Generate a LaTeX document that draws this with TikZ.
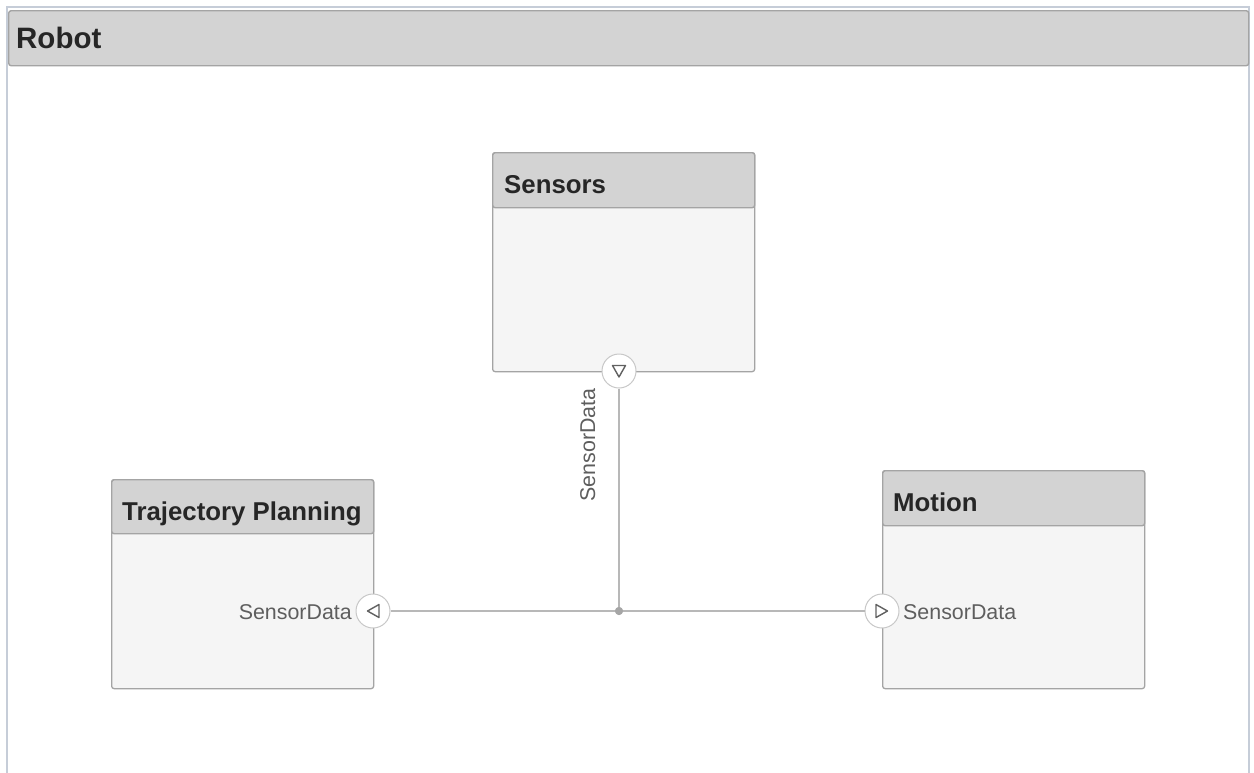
\documentclass[tikz,border=0pt]{standalone}
\usepackage{fontspec}
\setmainfont{Liberation Sans}
\usetikzlibrary{calc}

\definecolor{hdr}{HTML}{D3D3D3}
\definecolor{bodyfill}{HTML}{F5F5F5}
\definecolor{edge}{HTML}{A4A4A4}
\definecolor{wire}{HTML}{B8B8B8}
\definecolor{portedge}{HTML}{C8C8C8}
\definecolor{labelgray}{HTML}{5E5E5E}
\definecolor{titleink}{HTML}{262626}
\definecolor{frameside}{HTML}{C6CDD8}

\tikzset{
  blockbody/.style={draw=edge, fill=bodyfill, line width=1.3pt, rounded corners=2.5pt,
    inner sep=0pt, anchor=north west},
  blockhead/.style={draw=edge, fill=hdr, line width=1.4pt, rounded corners=2.5pt,
    inner sep=0pt, anchor=north west, minimum height=55pt},
  blocktitle/.style={anchor=base west, inner sep=0pt, text=titleink,
    font=\fontsize{25.8}{30}\selectfont\bfseries},
  portlabel/.style={inner sep=0pt, text=labelgray, font=\fontsize{21.4}{25}\selectfont},
  port/.style={circle, draw=portedge, fill=white, line width=1pt, minimum size=34pt, inner sep=0pt},
  wireline/.style={draw=wire, line width=1.6pt},
  tri/.style={draw=black!62, line width=1.4pt, line join=round},
  junction/.style={circle, fill=black!35, minimum size=8pt, inner sep=0pt},
}

\begin{document}
\begin{tikzpicture}[x=1pt, y=-1pt]
  \useasboundingbox (0,0) rectangle (1254,772);
  \fill[white] (0,0) rectangle (1254,772);

  % outer component frame
  \draw[frameside, line width=2.5pt] (7,790) -- (7,7) -- (1249,7) -- (1249,790);
  \node[blockhead, minimum width=1240pt] (robothead) at (8,10) {};
  \node[blocktitle, font=\fontsize{29.5}{34}\selectfont\bfseries] (robottitle) at (16,48) {Robot};

  % Sensors
  \node[blockbody, minimum width=262pt, minimum height=219pt] (sens) at (492,152) {};
  \node[blockhead, minimum width=262pt] (senshead) at (492,152) {};
  \node[blocktitle] (senstitle) at (504,193) {Sensors};

  % Trajectory Planning
  \node[blockbody, minimum width=262pt, minimum height=209pt] (traj) at (111,479) {};
  \node[blockhead, minimum width=262pt, minimum height=54pt] (trajhead) at (111,479) {};
  \node[blocktitle] (trajtitle) at (122,520) {Trajectory Planning};

  % Motion
  \node[blockbody, minimum width=262pt, minimum height=218pt] (mot) at (882,470) {};
  \node[blockhead, minimum width=262pt] (mothead) at (882,470) {};
  \node[blocktitle] (mottitle) at (893,511) {Motion};

  % ports and the junction of the SensorData connection
  \node[port] (sensport) at (619,371) {};
  \node[port] (trajport) at (373,611) {};
  \node[port] (motport) at (882,611) {};
  \node[junction] (junc) at (619,611) {};

  % connectors
  \draw[wireline] (sensport.south) -- (junc.center);
  \draw[wireline] (trajport.east) -- (junc.center);
  \draw[wireline] (junc.center) -- (motport.west);
  \node[junction] at (junc) {};

  % port direction marks
  \draw[tri] ($(sensport)+(-6.5,-5.5)$) -- ($(sensport)+(6.5,-5.5)$) -- ($(sensport)+(0,6)$) -- cycle;
  \draw[tri] ($(trajport)+(6,-6.5)$) -- ($(trajport)+(6,6.5)$) -- ($(trajport)+(-5.5,0)$) -- cycle;
  \draw[tri] ($(motport)+(-6,-6.5)$) -- ($(motport)+(-6,6.5)$) -- ($(motport)+(5.5,0)$) -- cycle;

  % port labels
  \node[portlabel, anchor=base east] (trajlabel) at (352,619) {SensorData};
  \node[portlabel, anchor=base west] (motlabel) at (903,619) {SensorData};
  \node[portlabel, anchor=base, rotate=90] (senslabel) at (595,445) {SensorData};
\end{tikzpicture}
\end{document}
